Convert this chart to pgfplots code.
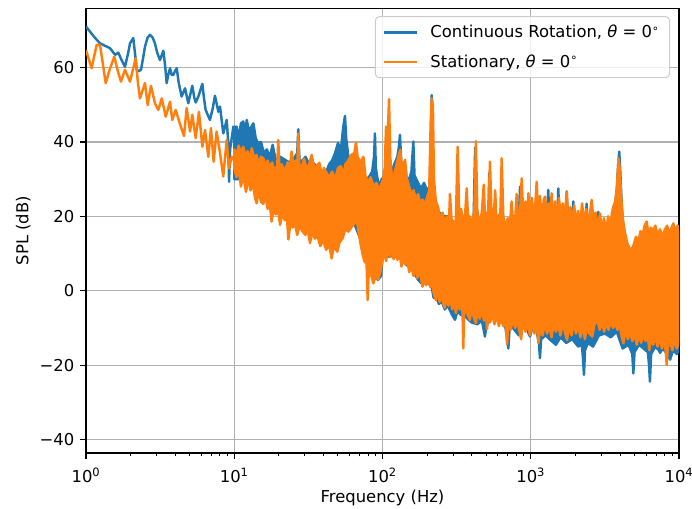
\documentclass[border=0pt]{standalone}
\usepackage{pgfplots}
\pgfplotsset{compat=1.18}
\usepackage{pgfplotstable}
\usepackage{fontspec}
\setmainfont{DejaVu Sans}

\definecolor{mplblue}{HTML}{1F77B4}
\definecolor{mplorange}{HTML}{FF7F0E}
\definecolor{gridgray}{HTML}{B0B0B0}
\definecolor{legendedge}{HTML}{CCCCCC}

% Spectra: lf = log10(frequency / Hz), db = SPL in dB.
% Below 10 Hz the spectra are single traces; above 10 Hz they are dense
% enough to be drawn as the band between their upper and lower envelopes.
\pgfplotstableread{
lf db
0.000 71.0
0.030 69.5
0.060 68.0
0.094 66.5
0.130 65.8
0.162 65.2
0.196 63.4
0.218 64.0
0.240 62.0
0.263 60.2
0.285 64.0
0.297 66.5
0.319 67.9
0.330 64.0
0.342 59.4
0.355 59.0
0.371 59.4
0.385 62.5
0.398 65.6
0.415 68.0
0.432 68.8
0.450 68.0
0.465 66.5
0.480 64.0
0.499 62.0
0.522 64.5
0.535 60.0
0.544 55.8
0.555 58.0
0.567 59.8
0.578 58.0
0.589 58.0
0.600 59.0
0.612 59.8
0.625 56.0
0.645 52.2
0.668 54.4
0.690 50.4
0.717 55.1
0.730 52.0
0.740 50.6
0.758 52.2
0.785 55.6
0.795 52.0
0.807 48.6
0.836 45.9
0.855 49.0
0.870 52.4
0.893 48.1
0.904 49.5
0.926 42.3
0.949 45.9
0.960 39.6
0.965 29.3
0.972 38.0
0.994 44.1
1.000 44.0
}\bluelow

\pgfplotstableread{
lf db
0.000 64.7
0.038 59.8
0.072 66.1
0.094 66.1
0.110 62.0
0.133 55.8
0.160 59.5
0.191 62.9
0.215 59.0
0.236 56.2
0.263 59.4
0.297 56.2
0.335 62.5
0.350 56.0
0.364 51.7
0.398 55.8
0.416 49.9
0.438 55.1
0.465 50.4
0.488 48.6
0.511 51.7
0.538 46.8
0.567 50.8
0.582 45.9
0.605 48.6
0.634 44.8
0.661 41.6
0.679 49.1
0.702 42.8
0.717 47.3
0.740 41.0
0.762 48.1
0.785 38.7
0.803 43.2
0.825 36.0
0.843 43.7
0.861 34.7
0.881 42.8
0.904 37.0
0.926 30.7
0.949 40.5
0.965 32.9
0.983 36.0
1.000 35.0
}\orangelow

\pgfplotstableread{
lf db
1.000 44.0
1.016 44.1
1.030 41.0
1.045 45.0
1.061 45.5
1.075 42.0
1.084 45.9
1.100 43.0
1.115 44.0
1.129 45.0
1.145 41.0
1.162 39.6
1.180 40.0
1.200 37.0
1.220 38.0
1.240 36.0
1.259 39.2
1.275 36.0
1.290 34.5
1.310 36.0
1.330 35.5
1.350 35.0
1.370 34.5
1.390 35.0
1.410 36.0
1.425 37.0
1.432 43.4
1.440 35.0
1.460 35.0
1.480 36.0
1.500 34.5
1.520 35.0
1.540 34.0
1.560 33.5
1.580 32.0
1.600 31.0
1.620 32.0
1.640 34.0
1.660 35.0
1.680 37.0
1.700 39.7
1.720 38.0
1.735 44.0
1.747 47.0
1.755 41.0
1.770 36.0
1.790 35.0
1.810 36.5
1.835 35.5
1.855 33.0
1.875 31.0
1.900 30.0
1.930 32.0
1.943 36.0
1.949 42.3
1.955 33.0
1.975 28.0
1.995 30.0
2.020 31.0
2.060 32.0
2.080 34.0
2.100 36.0
2.110 38.5
2.118 41.9
2.126 35.0
2.140 31.0
2.160 30.5
2.180 30.0
2.195 32.0
2.208 40.1
2.216 31.0
2.240 29.0
2.260 27.5
2.280 29.0
2.300 27.0
2.320 28.0
2.332 52.6
2.347 24.0
2.365 21.0
2.385 21.0
2.400 20.5
2.420 20.0
2.440 20.0
2.460 19.0
2.480 18.5
2.500 18.0
2.520 17.5
2.560 17.0
2.600 17.0
2.615 20.0
2.625 38.5
2.635 22.0
2.660 17.0
2.700 17.0
2.715 21.0
2.720 31.6
2.727 20.0
2.760 17.0
2.800 16.5
2.850 16.0
2.900 16.5
2.920 20.0
2.928 28.0
2.936 20.0
2.950 17.0
2.990 18.0
3.020 17.0
3.050 18.0
3.080 17.5
3.110 20.0
3.118 27.1
3.126 19.0
3.160 18.0
3.180 20.0
3.186 27.5
3.193 19.0
3.220 18.0
3.236 20.0
3.243 26.7
3.250 18.5
3.280 18.0
3.287 24.0
3.295 17.0
3.330 17.0
3.370 18.0
3.377 23.4
3.385 17.0
3.420 16.5
3.450 17.0
3.456 21.2
3.463 16.0
3.500 15.5
3.540 16.5
3.552 20.0
3.557 21.7
3.565 22.0
3.580 27.0
3.590 34.0
3.597 37.4
3.604 32.0
3.615 22.0
3.630 15.0
3.660 11.0
3.690 11.5
3.730 13.0
3.770 15.0
3.820 15.0
3.870 15.0
3.920 15.5
3.970 16.0
4.000 16.0
}\blueup

\pgfplotstableread{
lf db
1.000 30.0
1.050 30.0
1.100 29.0
1.150 27.0
1.200 26.0
1.250 23.0
1.300 21.0
1.350 19.0
1.400 19.0
1.450 18.0
1.500 17.2
1.550 16.0
1.600 14.5
1.650 12.0
1.700 13.0
1.750 17.0
1.800 19.0
1.850 14.0
1.893 7.8
1.930 5.0
1.970 2.9
1.990 4.0
2.000 9.0
2.100 9.5
2.200 5.5
2.240 3.0
2.262 2.0
2.300 2.0
2.330 1.5
2.345 -1.9
2.360 -1.5
2.380 -3.5
2.400 -3.0
2.420 -5.0
2.440 -4.0
2.470 -6.5
2.489 -7.8
2.505 -5.5
2.530 -6.5
2.560 -7.0
2.600 -8.5
2.640 -9.0
2.670 -8.0
2.685 -11.0
2.691 -12.3
2.700 -9.5
2.730 -7.5
2.760 -7.0
2.800 -8.0
2.830 -10.0
2.842 -13.0
2.849 -15.5
2.857 -10.0
2.880 -10.0
2.920 -12.0
2.950 -9.0
2.980 -11.0
2.995 -12.3
3.010 -10.0
3.040 -11.0
3.055 -14.0
3.062 -18.1
3.070 -13.0
3.100 -12.0
3.140 -13.5
3.170 -14.5
3.200 -12.5
3.240 -14.0
3.280 -13.0
3.320 -15.0
3.345 -14.5
3.352 -18.0
3.359 -22.6
3.366 -16.0
3.385 -14.0
3.420 -15.0
3.460 -12.0
3.500 -11.5
3.540 -12.5
3.580 -11.0
3.620 -15.5
3.660 -14.5
3.685 -17.0
3.692 -22.2
3.700 -16.5
3.730 -14.5
3.760 -15.5
3.790 -16.5
3.798 -20.0
3.804 -24.4
3.812 -17.0
3.840 -15.0
3.865 -16.0
3.872 -16.7
3.890 -15.5
3.920 -17.0
3.940 -18.5
3.960 -16.0
3.985 -17.0
4.000 -16.0
}\bluedn

\pgfplotstableread{
lf db
1.000 38.0
1.015 36.5
1.030 39.0
1.045 37.0
1.061 38.7
1.075 36.0
1.090 37.5
1.105 35.0
1.118 38.3
1.135 35.5
1.150 36.5
1.165 34.0
1.180 36.0
1.196 35.6
1.210 33.5
1.225 35.0
1.240 33.0
1.255 34.5
1.270 32.5
1.290 33.5
1.297 40.5
1.305 33.0
1.320 34.0
1.340 32.0
1.360 34.5
1.375 33.0
1.387 37.4
1.400 33.5
1.415 35.0
1.426 34.0
1.432 42.3
1.438 34.0
1.455 33.0
1.470 35.5
1.490 32.5
1.505 34.0
1.522 36.5
1.540 33.0
1.555 33.5
1.574 34.4
1.590 31.0
1.605 33.0
1.623 31.6
1.640 30.5
1.660 32.0
1.680 30.0
1.700 33.0
1.720 33.5
1.736 31.1
1.750 34.0
1.770 35.0
1.790 36.5
1.810 37.0
1.821 39.8
1.832 36.0
1.850 34.5
1.871 36.0
1.885 31.0
1.900 29.0
1.920 30.5
1.940 28.0
1.960 29.0
1.975 27.0
1.990 28.5
2.005 30.0
2.015 33.0
2.024 44.1
2.034 40.0
2.044 51.5
2.052 36.0
2.065 30.0
2.080 31.5
2.095 34.0
2.110 36.5
2.120 37.9
2.130 33.0
2.140 34.0
2.152 35.2
2.165 30.0
2.180 28.0
2.195 26.0
2.210 27.0
2.225 24.5
2.240 26.0
2.255 23.5
2.270 24.5
2.285 23.0
2.300 25.0
2.315 27.0
2.325 45.0
2.332 51.7
2.340 50.0
2.347 30.0
2.360 24.0
2.375 22.5
2.390 19.0
2.405 21.0
2.420 18.0
2.435 20.0
2.448 17.5
2.455 26.0
2.465 19.5
2.480 17.5
2.495 19.0
2.507 38.7
2.518 20.0
2.530 22.0
2.545 18.0
2.558 21.0
2.568 27.5
2.578 18.5
2.590 20.0
2.605 17.5
2.620 22.0
2.630 40.2
2.640 20.5
2.655 18.5
2.670 21.0
2.683 28.5
2.693 18.0
2.703 20.0
2.715 22.0
2.725 34.7
2.735 21.0
2.748 18.0
2.760 27.0
2.770 17.5
2.782 20.0
2.795 21.0
2.804 35.6
2.815 20.0
2.830 17.0
2.845 19.5
2.860 18.0
2.871 24.0
2.882 17.5
2.895 19.0
2.905 26.0
2.915 18.5
2.928 21.0
2.939 30.2
2.950 20.0
2.965 24.0
2.975 19.0
2.984 26.2
2.995 18.5
3.008 25.0
3.020 19.0
3.032 24.0
3.040 29.3
3.050 20.0
3.062 25.5
3.075 19.0
3.088 24.5
3.096 25.3
3.108 18.5
3.120 23.5
3.132 20.0
3.141 26.2
3.152 19.0
3.165 24.0
3.178 18.0
3.190 25.0
3.203 19.5
3.216 23.5
3.230 18.5
3.242 26.6
3.255 19.0
3.268 22.5
3.280 17.5
3.293 23.0
3.306 18.0
3.320 21.5
3.333 17.0
3.346 23.5
3.360 18.0
3.374 22.0
3.388 17.5
3.400 21.0
3.411 24.4
3.425 18.0
3.438 21.0
3.452 16.5
3.467 20.8
3.480 16.0
3.494 19.5
3.508 15.5
3.522 20.0
3.536 17.0
3.548 21.0
3.557 22.6
3.570 24.0
3.582 28.0
3.592 35.6
3.600 33.0
3.610 25.0
3.622 19.0
3.636 15.5
3.650 13.0
3.665 11.5
3.681 10.5
3.695 12.5
3.710 14.5
3.725 13.0
3.740 16.0
3.755 15.0
3.768 17.5
3.782 18.6
3.795 15.0
3.810 17.0
3.825 16.0
3.840 17.5
3.856 15.0
3.872 16.5
3.890 14.5
3.905 16.5
3.920 17.5
3.935 15.0
3.950 17.0
3.962 18.1
3.975 16.0
3.990 17.5
4.000 16.0
}\orangeup

\pgfplotstableread{
lf db
1.000 33.0
1.015 30.5
1.030 33.0
1.045 28.0
1.061 31.0
1.079 26.6
1.095 30.0
1.110 27.0
1.125 29.0
1.140 25.0
1.151 23.5
1.165 27.0
1.180 24.0
1.196 23.3
1.210 26.0
1.225 22.0
1.240 23.5
1.252 18.6
1.265 22.0
1.280 20.5
1.295 22.0
1.309 17.7
1.325 21.0
1.340 19.0
1.355 20.0
1.365 13.8
1.380 18.5
1.395 17.0
1.410 18.0
1.425 15.0
1.440 17.5
1.460 16.0
1.480 15.0
1.495 16.5
1.511 12.8
1.525 15.5
1.545 14.0
1.560 15.0
1.580 12.0
1.600 13.5
1.620 11.0
1.640 12.5
1.657 8.7
1.672 12.0
1.695 10.5
1.710 13.0
1.730 14.0
1.750 16.5
1.770 15.9
1.790 17.0
1.826 19.0
1.850 13.0
1.870 9.0
1.882 7.6
1.892 8.0
1.900 -2.5
1.908 6.0
1.925 4.0
1.938 2.0
1.955 4.0
1.970 3.0
1.985 5.0
2.000 8.0
2.012 11.0
2.025 8.0
2.038 12.5
2.050 9.0
2.062 12.0
2.075 8.5
2.090 10.5
2.100 8.3
2.115 10.0
2.128 6.5
2.140 9.0
2.155 7.0
2.168 8.5
2.180 5.0
2.195 7.0
2.208 4.0
2.220 6.0
2.235 3.5
2.250 5.5
2.262 2.9
2.270 1.1
2.282 3.5
2.295 1.5
2.310 3.0
2.322 1.0
2.335 2.5
2.345 -0.6
2.360 -2.5
2.372 0.5
2.385 -3.0
2.398 -0.5
2.410 -3.5
2.420 -4.6
2.432 -1.5
2.445 -4.0
2.458 -2.0
2.470 -5.0
2.483 -3.0
2.495 -6.0
2.508 -3.0
2.520 -5.0
2.532 -2.5
2.540 -6.0
2.545 -15.5
2.550 -6.5
2.562 -4.0
2.575 -6.5
2.590 -7.8
2.602 -4.5
2.615 -7.0
2.630 -8.7
2.643 -5.0
2.656 -7.5
2.670 -5.5
2.685 -8.0
2.700 -6.0
2.705 -10.3
2.712 -6.5
2.725 -8.5
2.740 -6.0
2.755 -9.0
2.770 -6.5
2.785 -9.5
2.800 -7.0
2.815 -9.5
2.828 -7.5
2.840 -14.4
2.850 -8.0
2.865 -10.5
2.880 -7.5
2.895 -10.0
2.910 -8.0
2.925 -11.0
2.935 -13.0
2.945 -9.0
2.950 -8.0
2.965 -11.0
2.980 -8.5
2.995 -12.0
3.010 -8.0
3.025 -11.5
3.040 -9.0
3.052 -14.0
3.065 -9.5
3.080 -12.0
3.095 -8.5
3.110 -11.5
3.125 -9.0
3.140 -12.5
3.155 -8.5
3.170 -11.0
3.185 -9.0
3.200 -12.0
3.215 -8.5
3.230 -11.0
3.245 -13.2
3.260 -9.0
3.275 -12.0
3.290 -8.5
3.305 -11.5
3.320 -9.0
3.335 -12.5
3.350 -9.0
3.365 -13.0
3.380 -9.5
3.395 -11.5
3.415 -12.3
3.430 -9.0
3.450 -8.0
3.465 -10.5
3.480 -8.0
3.495 -11.0
3.510 -8.5
3.525 -10.5
3.540 -8.0
3.555 -10.0
3.570 -8.7
3.585 -10.5
3.600 -9.0
3.612 -12.0
3.625 -14.1
3.640 -10.5
3.655 -13.0
3.670 -11.0
3.685 -13.5
3.700 -11.5
3.715 -14.5
3.730 -12.0
3.745 -14.0
3.760 -11.5
3.775 -13.5
3.790 -12.0
3.800 -16.0
3.812 -12.5
3.826 -14.5
3.840 -12.0
3.855 -15.0
3.870 -12.5
3.885 -15.5
3.900 -13.0
3.910 -16.0
3.917 -19.9
3.925 -15.0
3.940 -13.5
3.955 -16.0
3.970 -13.0
3.985 -15.5
4.000 -14.0
}\orangedn

% Outline of each band: upper envelope left to right, then the lower
% envelope right to left.
\pgfplotstablesort[sort key=lf, sort cmp=float >]{\bluednrev}{\bluedn}
\pgfplotstablevertcat{\blueup}{\bluednrev}
\pgfplotstablesort[sort key=lf, sort cmp=float >]{\orangednrev}{\orangedn}
\pgfplotstablevertcat{\orangeup}{\orangednrev}

\begin{document}
\begin{tikzpicture}[font=\fontsize{12.3}{14.5}\selectfont]
\begin{axis}[
  at={(0,0)}, anchor=south west,
  scale only axis,
  width=444.75pt, height=333.5pt,
  xmode=log,
  xmin=1, xmax=10000,
  ymin=-43.6, ymax=75.9,
  xtick={1,10,100,1000,10000},
  xticklabels={10\textsuperscript{0},10\textsuperscript{1},10\textsuperscript{2},10\textsuperscript{3},10\textsuperscript{4}},
  minor xtick={2,3,4,5,6,7,8,9,20,30,40,50,60,70,80,90,200,300,400,500,600,700,800,900,2000,3000,4000,5000,6000,7000,8000,9000},
  ytick={-40,-20,0,20,40,60},
  yticklabels={−40,−20,0,20,40,60},
  xtick pos=left, ytick pos=left,
  tick align=outside,
  major tick length=4.3pt,
  minor tick length=2.5pt,
  every major tick/.style={black, line width=0.98pt},
  every minor tick/.style={black, line width=0.74pt},
  axis line style={line width=0.98pt},
  xmajorgrids, ymajorgrids,
  major grid style={gridgray, line width=0.98pt},
  xticklabel style={yshift=-3.5pt},
  yticklabel style={xshift=-1pt},
  xlabel={Frequency (Hz)},
  ylabel={SPL (dB)},
  xlabel style={at={(axis description cs:0.5,-0.1015)}, anchor=center},
  ylabel style={at={(axis description cs:-0.106,0.5)}, anchor=center},
  legend cell align=left,
  legend style={at={(1,1)}, anchor=north east, xshift=-6.75pt, yshift=-5.8pt,
    draw=legendedge, line width=0.75pt, rounded corners=3pt, fill=white, fill opacity=0.8,
    text opacity=1, inner xsep=5.25pt, inner ysep=4.5pt, row sep=7pt},
  legend image code/.code={\draw[#1, line width=1.84pt] (0pt,0pt) -- (24.75pt,0pt); \path (32.25pt,0pt);},
  every axis plot/.append style={line width=1.84pt, line join=round},
]
% Continuous rotation
\addplot[mplblue] table[x expr=10^\thisrow{lf}, y=db] {\bluelow};
\addlegendentry{Continuous Rotation, \textit{θ} = 0\textsuperscript{∘}}
\addplot[mplblue, fill=mplblue, forget plot] table[x expr=10^\thisrow{lf}, y=db] {\blueup} -- cycle;

% Stationary
\addplot[mplorange] table[x expr=10^\thisrow{lf}, y=db] {\orangelow};
\addlegendentry{Stationary, \textit{θ} = 0\textsuperscript{∘}}
\addplot[mplorange, fill=mplorange, forget plot] table[x expr=10^\thisrow{lf}, y=db] {\orangeup} -- cycle;
\end{axis}
\pgfresetboundingbox
\path[use as bounding box] (-64.5pt,-41.25pt) rectangle (454.5pt,339.75pt);
\end{tikzpicture}
\end{document}
